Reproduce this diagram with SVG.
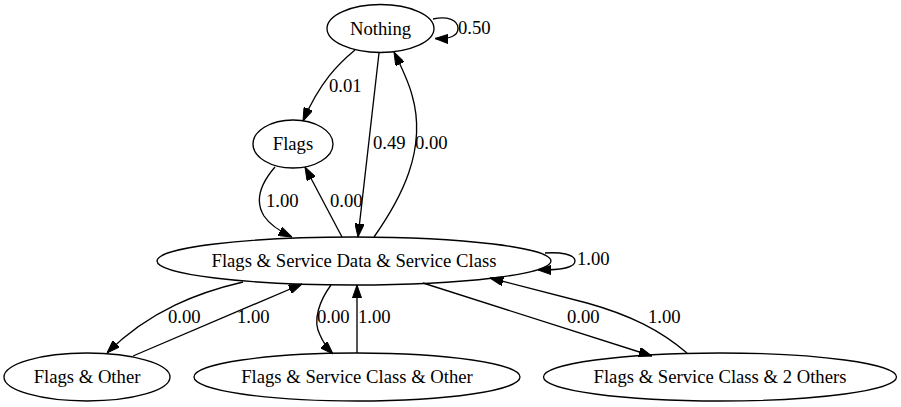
<svg xmlns="http://www.w3.org/2000/svg" width="901" height="407" viewBox="0 0 901 407">
<style>
.n ellipse{fill:none;stroke:#000;stroke-width:1.33}
text{font-family:"Liberation Serif","Times New Roman",serif;font-size:18.67px;fill:#000}
.n text{text-anchor:middle}
.e path{fill:none;stroke:#000;stroke-width:1.33;marker-end:url(#ah)}
</style>
<defs>
<marker id="ah" markerUnits="userSpaceOnUse" viewBox="0 0 13.3 9.34" markerWidth="13.3" markerHeight="9.34" refX="13.3" refY="4.67" orient="auto">
<path d="M0,0 L13.3,4.67 L0,9.34 z" fill="#000" stroke="#000" stroke-width="1"/>
</marker>
</defs>
<rect width="901" height="407" fill="#fff"/>
<g id="edges" class="e">
<path d="M433,19 C446,16 458,19 458,28.5 C458,36 450,39 435,38.5"/>
<path d="M355,50 C338,64 320,82 303,121"/>
<path d="M379,53 L358,237"/>
<path d="M374,237 C400,200 428,150 412,95 C408,80 402,68 394,52"/>
<path d="M275,167 C262,182 254,200 264,216 C268,222 277,230 292,237"/>
<path d="M342,237 L305,167"/>
<path d="M545,253 C560,252 575,254 575,261 C575,267 565,270 538,270"/>
<path d="M243,282 C200,292 150,310 107,353"/>
<path d="M133,356 L302,284"/>
<path d="M331,285 C320,300 312,320 320,335 C323,342 327,348 333,354"/>
<path d="M357,353 L357,285"/>
<path d="M423,283 L652,356"/>
<path d="M687,353 C660,330 630,315 587,303 C560,296 530,288 490,278"/>
<text x="458" y="33.5">0.50</text>
<text x="329" y="91.5">0.01</text>
<text x="373" y="149">0.49</text>
<text x="415" y="149">0.00</text>
<text x="266" y="207">1.00</text>
<text x="330" y="207">0.00</text>
<text x="577" y="265">1.00</text>
<text x="168" y="323">0.00</text>
<text x="237" y="323">1.00</text>
<text x="317" y="323">0.00</text>
<text x="358" y="323">1.00</text>
<text x="567" y="323">0.00</text>
<text x="648" y="323">1.00</text>
</g>
<g id="nothing" class="n"><ellipse cx="380.5" cy="28.5" rx="53.5" ry="24"/><text x="380.5" y="34.5">Nothing</text></g>
<g id="flags" class="n"><ellipse cx="293" cy="144" rx="40" ry="24"/><text x="293" y="150">Flags</text></g>
<g id="main" class="n"><ellipse cx="354" cy="261" rx="197" ry="24"/><text x="354" y="267">Flags &amp; Service Data &amp; Service Class</text></g>
<g id="flags-other" class="n"><ellipse cx="87" cy="377" rx="83" ry="24"/><text x="87" y="383">Flags &amp; Other</text></g>
<g id="fsc-other" class="n"><ellipse cx="357" cy="377" rx="163" ry="24"/><text x="357" y="383">Flags &amp; Service Class &amp; Other</text></g>
<g id="fsc-2others" class="n"><ellipse cx="720" cy="377" rx="176.5" ry="24"/><text x="720" y="383">Flags &amp; Service Class &amp; 2 Others</text></g>
</svg>
